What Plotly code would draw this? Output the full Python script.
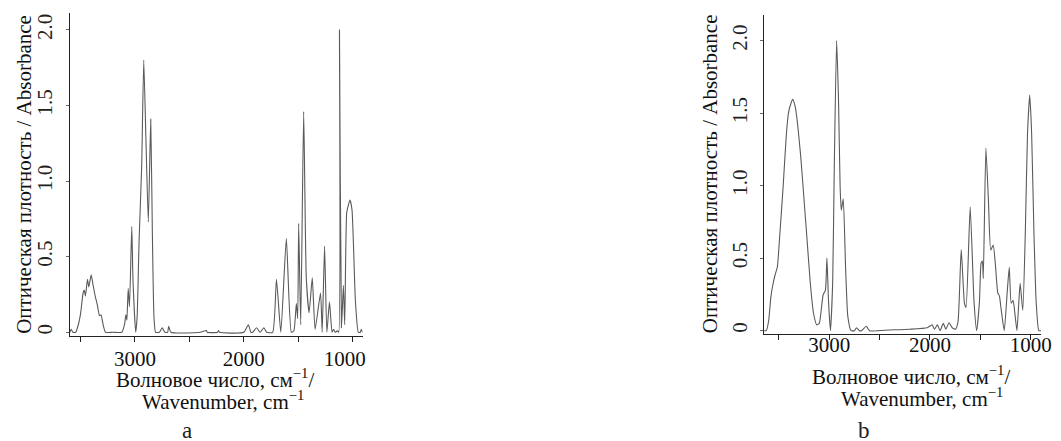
import plotly.graph_objects as go

# ---- data: spectrum a ----
wn_a = [3598, 3585, 3570, 3545, 3520, 3500, 3476, 3465, 3455, 3436, 3424, 3402, 3384, 3365, 3345,
        3325, 3311, 3295, 3270, 3200, 3120, 3096, 3083, 3074, 3062, 3050, 3029, 3018, 2993, 2980,
        2962, 2938, 2919, 2898, 2877, 2855, 2840, 2825, 2810, 2775, 2749, 2725, 2700, 2690, 2670,
        2400, 2344, 2335, 2240, 2232, 2222, 2000, 1958, 1935, 1919, 1882, 1851, 1815, 1790, 1735,
        1700, 1660, 1609, 1563, 1540, 1517, 1505, 1496, 1477, 1450, 1426, 1400, 1371, 1345, 1295,
        1280, 1258, 1237, 1213, 1189, 1175, 1160, 1140, 1128, 1121, 1103, 1085, 1073, 1055, 1040,
        1025, 1006, 975, 948, 930, 921, 909]
abs_a = [0.00, 0.02, 0.00, 0.00, 0.05, 0.12, 0.26, 0.28, 0.24, 0.35, 0.30, 0.38, 0.31, 0.24, 0.18,
         0.11, 0.115, 0.06, 0.00, 0.00, 0.00, 0.05, 0.115, 0.08, 0.29, 0.17, 0.70, 0.35, 0.00, 0.10,
         0.60, 1.10, 1.80, 1.25, 0.73, 1.41, 0.66, 0.10, 0.00, 0.00, 0.03, 0.00, 0.00, 0.04, 0.00,
         0.00, 0.012, 0.00, 0.00, 0.012, 0.00, 0.00, 0.05, 0.00, 0.00, 0.03, 0.00, 0.03, 0.00, 0.00,
         0.35, 0.00, 0.62, 0.00, 0.01, 0.19, 0.09, 0.72, 0.05, 1.46, 0.36, 0.13, 0.36, 0.02, 0.26,
         0.00, 0.57, 0.00, 0.20, 0.00, 0.02, 0.00, 0.01, 0.00, 2.00, 0.03, 0.31, 0.05, 0.79, 0.84,
         0.875, 0.81, 0.21, 0.00, 0.00, 0.02, 0.00]

# ---- data: spectrum b ----
wn_b = [3646, 3625, 3601, 3579, 3560, 3538, 3515, 3490, 3458, 3427, 3405, 3379, 3363, 3338, 3315,
        3283, 3252, 3220, 3188, 3156, 3124, 3099, 3076, 3061, 3038, 3023, 3007, 2988, 2966, 2950,
        2927, 2908, 2892, 2880, 2861, 2838, 2816, 2784, 2750, 2730, 2700, 2680, 2632, 2600, 2400,
        2200, 2027, 1979, 1955, 1926, 1900, 1868, 1843, 1811, 1779, 1747, 1722, 1690, 1658, 1642,
        1601, 1563, 1537, 1509, 1493, 1480, 1471, 1445, 1420, 1397, 1372, 1349, 1327, 1311, 1296,
        1263, 1232, 1213, 1194, 1175, 1159, 1137, 1118, 1105, 1079, 1054, 1032, 1010, 991, 968,
        946, 920, 898]
abs_b = [0.00, 0.00, 0.07, 0.235, 0.315, 0.384, 0.44, 0.67, 0.99, 1.34, 1.50, 1.57, 1.595, 1.545, 1.43,
         1.20, 0.92, 0.625, 0.327, 0.12, 0.04, 0.05, 0.166, 0.246, 0.28, 0.50, 0.20, 0.00, 0.33, 1.13,
         2.00, 1.59, 0.99, 0.83, 0.91, 0.44, 0.10, 0.00, 0.00, 0.02, 0.00, 0.00, 0.03, 0.00, 0.005,
         0.01, 0.02, 0.04, 0.01, 0.04, 0.00, 0.05, 0.01, 0.055, 0.02, 0.01, 0.06, 0.56, 0.19, 0.16,
         0.855, 0.20, 0.00, 0.20, 0.465, 0.48, 0.36, 1.26, 0.90, 0.556, 0.59, 0.44, 0.26, 0.24, 0.16,
         0.00, 0.28, 0.437, 0.19, 0.21, 0.13, 0.00, 0.20, 0.327, 0.14, 0.67, 1.36, 1.625, 1.36, 0.67,
         0.20, 0.00, 0.00]

NB = "\u00a0"
x_major_ticks = [3000, 2000, 1000]
x_text_a = ["3000", "2000", "1000" + NB * 3]
x_text_b = ["3000", "2000", "1000"]
x_minor_ticks = [3500, 2500, 1500]
y_tickvals = [0, 0.5, 1.0, 1.5, 2.0]
y_ticktext = ["0", "0.5", "1.0", "1.5", "2.0"]

x_title = "Волновое число, см<sup>−1</sup>/"
x_title2 = "Wavenumber, cm<sup>−1</sup>"
y_title = "Оптическая плотность / Absorbance"
panel_labels = ["a", "b"]

W, H = 1061, 441
SPAN = 1049                 # width the figure occupies in the photographed picture
FONT = "Liberation Serif, Times New Roman, serif"
LINE = "#5a5a5a"
AX = "#222222"

def px(x):
    return min(x, SPAN - 1) / SPAN

def py(y):
    return 1 - y / H

fig = go.Figure()
fig.add_trace(go.Scatter(x=wn_a, y=abs_a, mode="lines", xaxis="x", yaxis="y",
                         line=dict(color=LINE, width=1.1, shape="spline", smoothing=0.5),
                         hoverinfo="skip"))
fig.add_trace(go.Scatter(x=wn_b, y=abs_b, mode="lines", xaxis="x2", yaxis="y2",
                         line=dict(color=LINE, width=1.1, shape="spline", smoothing=0.5),
                         hoverinfo="skip"))

def xax(domain, rng, anchor, standoff, texts):
    return dict(domain=domain, range=rng, anchor=anchor, showgrid=False, zeroline=False,
                showline=True, linecolor=AX, linewidth=1.3, ticks="outside", ticklen=5,
                tickwidth=1, tickcolor=AX, tickvals=x_major_ticks, ticktext=texts,
                minor=dict(tickvals=x_minor_ticks, ticks="outside", ticklen=5, tickwidth=1,
                           tickcolor=AX, showgrid=False),
                tickfont=dict(family=FONT, size=21, color="#111"), ticklabelstandoff=standoff)

def yax(domain, rng, anchor):
    return dict(domain=domain, range=rng, anchor=anchor, showgrid=False, zeroline=False,
                showline=True, linecolor=AX, linewidth=1.1, ticks="outside", ticklen=3,
                tickwidth=1, tickcolor="#666", tickvals=y_tickvals, ticktext=y_ticktext,
                tickangle=-90, tickfont=dict(family=FONT, size=21, color="#222"),
                ticklabelstandoff=5)

annotations = []
for cx, l1y, l2x, l2y, lab_x, lab_y, yt_x, yt_y, lab in [
        (216, 378, 224, 400, 188, 430, 24, 174, panel_labels[0]),
        (917, 375, 928, 397, 870, 430, 715, 174, panel_labels[1])]:
    annotations += [
        dict(text=x_title, x=px(cx), y=py(l1y), xref="paper", yref="paper", showarrow=False,
             xanchor="center", yanchor="middle", font=dict(family=FONT, size=21, color="#111")),
        dict(text=x_title2, x=px(l2x), y=py(l2y), xref="paper", yref="paper", showarrow=False,
             xanchor="center", yanchor="middle", font=dict(family=FONT, size=21, color="#111")),
        dict(text=lab, x=px(lab_x), y=py(lab_y), xref="paper", yref="paper", showarrow=False,
             xanchor="center", yanchor="middle", font=dict(family=FONT, size=23, color="#222")),
        dict(text=y_title, x=px(yt_x), y=py(yt_y), xref="paper", yref="paper", showarrow=False,
             xanchor="center", yanchor="middle", textangle=-90,
             font=dict(family=FONT, size=21, color="#111")),
    ]

fig.update_layout(
    width=W, height=H, autosize=False, margin=dict(l=0, r=0, t=0, b=0),
    paper_bgcolor="white", plot_bgcolor="white", showlegend=False,
    xaxis=xax([px(70.3), px(365)], [3598, 909], "y", -1, x_text_a),
    yaxis=yax([py(336), py(13.3)], [-0.0245, 2.11], "x"),
    xaxis2=xax([px(769.3), px(1057)], [3646, 898], "y2", -13, x_text_b),
    yaxis2=yax([py(334), py(15)], [-0.023, 2.177], "x2"),
    annotations=annotations,
)

# remove the default page margin so the figure starts at the window corner
fig.write_html("out.html",
               config={"displayModeBar": False, "responsive": False},
               post_script="document.body.style.margin='0';document.body.style.overflow='hidden';")
